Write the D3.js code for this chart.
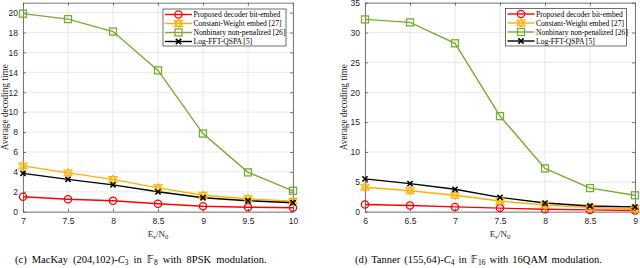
<!DOCTYPE html>
<html><head><meta charset="utf-8">
<script src="https://cdn.jsdelivr.net/npm/d3@7"></script>
<style>body{margin:0;background:#fff}svg{display:block}</style>
</head><body>
<svg id="c" width="640" height="268"></svg>
<script>
const seriesNames = ["Proposed decoder bit-embed","Constant-Weight embed [27]","Nonbinary non-penalized [26]","Log-FFT-QSPA [5]"];
const xLeft = [7,7.5,8,8.5,9,9.5,10];
const leftProposed = [1.5,1.25,1.1,0.8,0.55,0.45,0.4];
const leftCW = [4.6,3.9,3.25,2.4,1.65,1.3,1.05];
const leftNonbin = [19.9,19.35,18.1,14.2,7.85,3.95,2.1];
const leftLogFFT = [3.85,3.25,2.7,2.0,1.4,1.1,0.9];
const xRight = [6,6.5,7,7.5,8,8.5,9];
const rightProposed = [1.2,1.05,0.8,0.6,0.4,0.3,0.2];
const rightCW = [4.1,3.5,2.75,1.8,1.1,0.7,0.5];
const rightNonbin = [32.2,31.7,28.2,16.0,7.25,3.95,2.75];
const rightLogFFT = [5.5,4.7,3.75,2.4,1.45,0.95,0.8];
const leftXTicks = [7,7.5,8,8.5,9,9.5,10];
const leftYTicks = [0,2,4,6,8,10,12,14,16,18,20];
const rightXTicks = [6,6.5,7,7.5,8,8.5,9];
const rightYTicks = [0,5,10,15,20,25,30,35];

const colors = ["#ff0000","#ffb000","#77ac30","#000000"];
const markers = ["circle","hex","square","x"];
const svg = d3.select("#c");

function drawMarker(g, type, x, y, color){
  if(type==="circle"){
    g.append("circle").attr("cx",x).attr("cy",y).attr("r",3.6).attr("fill","none").attr("stroke",color).attr("stroke-width",1.3);
  } else if(type==="square"){
    g.append("rect").attr("x",x-3.5).attr("y",y-3.5).attr("width",7).attr("height",7).attr("fill","none").attr("stroke",color).attr("stroke-width",1.3);
  } else if(type==="hex"){
    const s = d3.symbol().type(d3.symbolTriangle).size(28);
    g.append("path").attr("d",s()).attr("transform",`translate(${x},${y+0.6})`).attr("fill","none").attr("stroke",color).attr("stroke-width",1.1);
    g.append("path").attr("d",s()).attr("transform",`translate(${x},${y-0.6}) rotate(180)`).attr("fill","none").attr("stroke",color).attr("stroke-width",1.1);
  } else {
    const d=2.6;
    g.append("path").attr("d",`M${x-d},${y-d}L${x+d},${y+d}M${x-d},${y+d}L${x+d},${y-d}`).attr("stroke",color).attr("stroke-width",1.6);
  }
}

function panel(opt){
  const g = svg.append("g");
  const x = d3.scaleLinear().domain(opt.xdom).range([opt.x0,opt.x1]);
  const y = d3.scaleLinear().domain(opt.ydom).range([opt.y1,opt.y0]);
  g.selectAll(".gx").data(opt.xticks).enter().append("line")
    .attr("x1",d=>x(d)).attr("x2",d=>x(d)).attr("y1",opt.y0).attr("y2",opt.y1)
    .attr("stroke","#e3e3e3").attr("stroke-width",0.8);
  g.selectAll(".gy").data(opt.yticks).enter().append("line")
    .attr("y1",d=>y(d)).attr("y2",d=>y(d)).attr("x1",opt.x0).attr("x2",opt.x1)
    .attr("stroke","#e3e3e3").attr("stroke-width",0.8);
  const axB = d3.axisBottom(x).tickValues(opt.xticks).tickSizeInner(-3).tickSizeOuter(0).tickPadding(6).tickFormat(d3.format("~g"));
  const axT = d3.axisTop(x).tickValues(opt.xticks).tickSizeInner(-3).tickSizeOuter(0).tickFormat("");
  const axL = d3.axisLeft(y).tickValues(opt.yticks).tickSizeInner(-3).tickSizeOuter(0).tickPadding(5).tickFormat(d3.format("~g"));
  const axR = d3.axisRight(y).tickValues(opt.yticks).tickSizeInner(-3).tickSizeOuter(0).tickFormat("");
  const st = s=>{s.selectAll("path,line").attr("stroke","#5a5a5a").attr("stroke-width",0.8);
    s.selectAll("text").attr("fill","#262626").attr("font-family","Liberation Sans, Arial, sans-serif").attr("font-size",8.5);};
  g.append("g").attr("transform",`translate(0,${opt.y1})`).call(axB).call(st);
  g.append("g").attr("transform",`translate(0,${opt.y0})`).call(axT).call(st);
  g.append("g").attr("transform",`translate(${opt.x0},0)`).call(axL).call(st);
  g.append("g").attr("transform",`translate(${opt.x1},0)`).call(axR).call(st);
  const line = d3.line().x(d=>x(d[0])).y(d=>y(d[1]));
  opt.series.forEach((vals,i)=>{
    const pts = opt.xs.map((xv,j)=>[xv,vals[j]]);
    g.append("path").datum(pts).attr("d",line).attr("fill","none").attr("stroke",colors[i]).attr("stroke-width",1.4);
  });
  opt.series.forEach((vals,i)=>{
    opt.xs.forEach((xv,j)=>drawMarker(g,markers[i],x(xv),y(vals[j]),colors[i]));
  });
  const L = opt.legend;
  g.append("rect").attr("x",L.x).attr("y",L.y).attr("width",L.w).attr("height",L.h)
    .attr("fill","#fff").attr("stroke","#333").attr("stroke-width",0.7);
  seriesNames.forEach((n,i)=>{
    const yy = L.y+5.5+i*9;
    g.append("line").attr("x1",L.x+2).attr("x2",L.x+29).attr("y1",yy).attr("y2",yy).attr("stroke",colors[i]).attr("stroke-width",1.4);
    drawMarker(g,markers[i],L.x+15.5,yy,colors[i]);
    g.append("text").attr("x",L.x+30.5).attr("y",yy+2.6).text(n)
      .attr("font-family","Liberation Serif, Times New Roman, serif").attr("font-size",7.6).attr("fill","#000");
  });
  g.append("text").attr("transform",`translate(${opt.ylabX},${(opt.y0+opt.y1)/2}) rotate(-90)`)
    .attr("text-anchor","middle").attr("font-family","Liberation Serif, serif").attr("font-size",9.3).attr("fill","#262626")
    .text("Average decoding time");
  const xl = g.append("text").attr("x",(opt.x0+opt.x1)/2).attr("y",237).attr("text-anchor","middle")
    .attr("font-family","Liberation Serif, serif").attr("font-size",9).attr("fill","#262626");
  xl.append("tspan").text("E");
  xl.append("tspan").text("s").attr("font-size",6.5).attr("dy",2);
  xl.append("tspan").text("/N").attr("dy",-2);
  xl.append("tspan").text("0").attr("font-size",6.5).attr("dy",2);
  const cp = g.append("text").attr("x",opt.capX).attr("y",263).attr("font-family","Liberation Serif, serif")
    .attr("font-size",10.5).attr("word-spacing",opt.ws).attr("fill","#000");
  cp.append("tspan").text(opt.cap[0]);
  cp.append("tspan").text("C").attr("font-style","italic");
  cp.append("tspan").text(opt.cap[1]).attr("font-size",7.5).attr("dy",2);
  cp.append("tspan").text(" in ").attr("dy",-2);
  cp.append("tspan").text("𝔽").attr("font-family","DejaVu Sans, sans-serif");
  cp.append("tspan").text(opt.cap[2]).attr("font-size",7.5).attr("dy",2);
  cp.append("tspan").text(opt.cap[3]).attr("dy",-2);
}

panel({xdom:[7,10],ydom:[0,21],x0:23,x1:293,y0:2.7,y1:211.7,xticks:leftXTicks,yticks:leftYTicks,xs:xLeft,
  series:[leftProposed,leftCW,leftNonbin,leftLogFFT],legend:{x:163,y:9,w:123,h:37},ylabX:8,capX:15,ws:2.5,
  cap:["(c) MacKay (204,102)-","3","8"," with 8PSK modulation."]});
panel({xdom:[6,9],ydom:[0,35],x0:365,x1:635,y0:2.7,y1:211.7,xticks:rightXTicks,yticks:rightYTicks,xs:xRight,
  series:[rightProposed,rightCW,rightNonbin,rightLogFFT],legend:{x:505.5,y:8.5,w:121,h:37.5},ylabX:347,capX:355,ws:1.5,
  cap:["(d) Tanner (155,64)-","4","16"," with 16QAM modulation."]});
</script>
</body></html>
